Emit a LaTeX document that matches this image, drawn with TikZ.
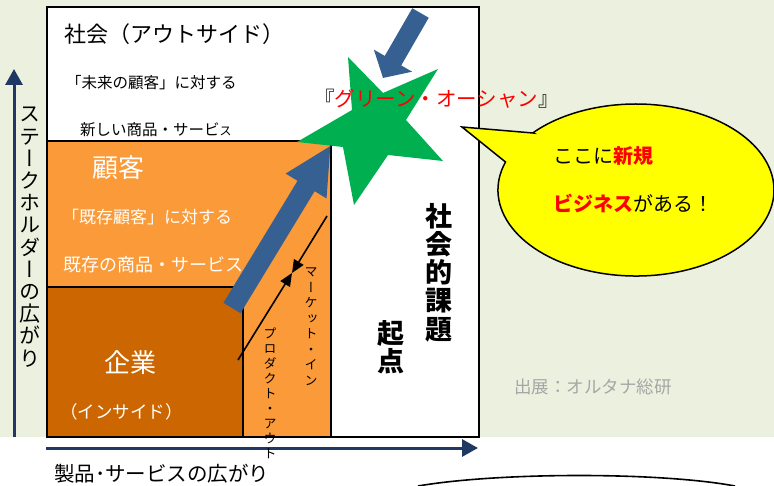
\documentclass[tikz,border=0pt]{standalone}
\usepackage{fontspec}
\setmainfont{Noto Sans CJK JP}
\newfontfamily\jpv[RawFeature=+vert]{Noto Sans CJK JP}
\usetikzlibrary{arrows.meta}
\definecolor{bggreen}{HTML}{EBF1DE}
\definecolor{orangeL}{HTML}{FA9A38}
\definecolor{orangeD}{HTML}{CC6600}
\definecolor{arrowblue}{HTML}{376092}
\definecolor{stargreen}{HTML}{00B050}
\definecolor{axisblue}{HTML}{1F3864}
\definecolor{graytxt}{HTML}{A6A6A6}
\definecolor{calloutyellow}{HTML}{FFFF00}
\begin{document}
\begin{tikzpicture}[x=1pt,y=-1pt,
  boxline/.style={line width=1.6pt, black},
  axisarrow/.style={line width=3pt, axisblue, -{Triangle[length=16pt,width=17pt]}},
  bigarrow/.style={line width=20pt, arrowblue, -{Triangle[length=48pt,width=44pt]}},
  smallarrow/.style={line width=19pt, arrowblue, -{Triangle[length=20pt,width=43pt]}},
  thinarrow/.style={line width=1.6pt, black, -{Triangle[length=13pt,width=11pt]}},
  lbl/.style={inner sep=0pt, anchor=west},
  vtext/.style={inner sep=0pt, anchor=north, align=center},
]
\useasboundingbox (0,0) rectangle (774,486);
\fill[bggreen] (0,0) rectangle (774,437);

% main frame and regions
\fill[white] (47,7) rectangle (479,437);
\fill[orangeL] (47,141) rectangle (331,437);
\fill[orangeD] (47,287) rectangle (243,437);
\draw[boxline] (47,141) -- (331,141) -- (331,437);
\draw[boxline] (47,287) -- (243,287) -- (243,437);
\draw[boxline] (47,7) rectangle (479,437);

% axes
\coordinate (ybot) at (14,437);
\coordinate (ytop) at (14,69);
\draw[axisarrow] (ybot) -- (ytop);
\coordinate (xleft) at (46,448);
\coordinate (xright) at (478,448);
\draw[axisarrow] (xleft) -- (xright);

% star
\fill[stargreen] (348,57) -- (383,93) -- (438,69) -- (406,120) -- (443,161)
  -- (388,155) -- (354,205) -- (343,147) -- (297,142) -- (352,110) -- cycle;

% blue arrows
\coordinate (bigtail) at (232,308);
\coordinate (bigtip) at (331,145);
\draw[bigarrow] (bigtail) -- (bigtip);
\coordinate (smalltail) at (420.5,13);
\coordinate (smalltip) at (383,78);
\draw[smallarrow] (smalltail) -- (smalltip);

% market-in / product-out arrows
\coordinate (meet) at (292,273);
\coordinate (mstart) at (327,216);
\coordinate (pstart) at (238,360);
\draw[thinarrow] (mstart) -- (meet);
\draw[thinarrow] (pstart) -- (meet);

% callout
\draw[line width=1.5pt, fill=calloutyellow] (533,133) -- (462,127) -- (505.5,162)
  arc[start angle=199, end angle=-138.4, x radius=138, y radius=86] -- cycle;
\node[lbl, font=\fontsize{20}{20}\selectfont] (c1) at (553,156) {ここに\textcolor{red}{\bfseries 新規}};
\node[lbl, font=\fontsize{20}{20}\selectfont] (c2) at (553,203) {\textcolor{red}{\bfseries ビジネス}がある！};

% texts in frame
\node[lbl, font=\fontsize{22}{22}\selectfont] (society) at (64,34) {社会（アウトサイド）};
\node[lbl, font=\fontsize{15.5}{15.5}\selectfont] (future) at (66,83) {「未来の顧客」に対する};
\node[lbl, font=\fontsize{15.5}{15.5}\selectfont] (newprod) at (80,130) {新しい商品・サービ{\fontsize{12}{12}\selectfont ス}};
\node[lbl, font=\fontsize{20.5}{20.5}\selectfont] (green) at (314,99) {『\textcolor{red}{グリーン・オーシャン}』};
\node[lbl, white, font=\fontsize{26}{26}\selectfont] (cust) at (92,168) {顧客};
\node[lbl, white, font=\fontsize{17}{17}\selectfont] (exist1) at (62,217.5) {「既存顧客」に対する};
\node[lbl, white, font=\fontsize{18}{18}\selectfont] (exist2) at (63,265) {既存の商品・サービス};
\node[lbl, white, font=\fontsize{26}{26}\selectfont] (corp) at (104,363) {企業};
\node[lbl, white, font=\fontsize{17.5}{17.5}\selectfont] (inside) at (60,412) {（インサイド）};

% vertical texts
\node[vtext, font=\jpv\fontsize{13}{15.5}\selectfont] (mktin) at (311,268)
  {マ\\ー\\ケ\\ッ\\ト\\・\\イ\\ン};
\node[vtext, font=\jpv\fontsize{13}{15}\selectfont] (prodout) at (270,328)
  {プ\\ロ\\ダ\\ク\\ト\\・\\ア\\ウ\\ト};
\node[vtext, font=\jpv\bfseries\fontsize{27}{28.2}\selectfont] (socissue) at (439,203)
  {社\\会\\的\\課\\題};
\node[vtext, font=\jpv\bfseries\fontsize{27}{28}\selectfont] (origin) at (391,320)
  {起\\点};
\node[vtext, font=\jpv\fontsize{21}{22.2}\selectfont] (stake) at (30,107)
  {ス\\テ\\ー\\ク\\ホ\\ル\\ダ\\ー\\の\\広\\が\\り};

% source and x-axis label
\node[lbl, graytxt, font=\fontsize{17.5}{17.5}\selectfont] (source) at (514,387) {出展：オルタナ総研};
\node[lbl, font=\fontsize{20.5}{20.5}\selectfont] (xlabel) at (54,474) {製品･サービスの広がり};

% bottom arc
\coordinate (arcl) at (418,486);
\coordinate (arcr) at (735,486);
\draw[line width=1.6pt] (arcl) .. controls (500,472) and (660,472) .. (arcr);
\end{tikzpicture}
\end{document}
